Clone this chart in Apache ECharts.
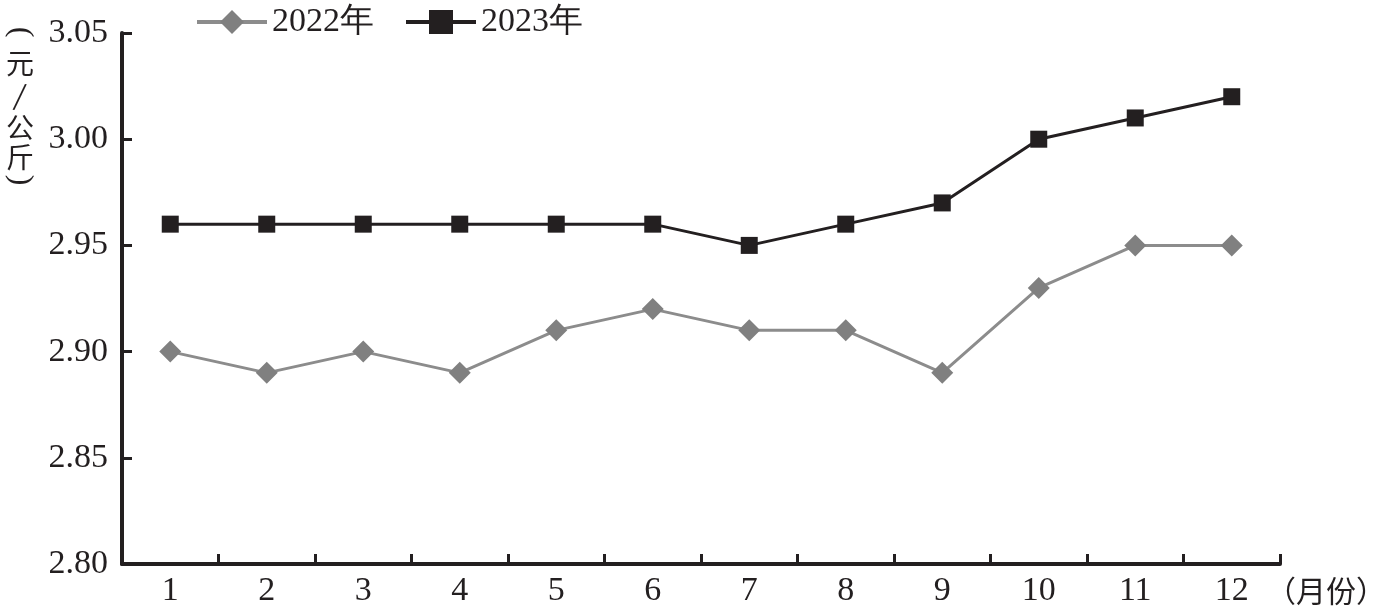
<!DOCTYPE html>
<html><head><meta charset="utf-8">
<script src="https://cdn.jsdelivr.net/npm/echarts@6/dist/echarts.min.js"></script>
<style>html,body{margin:0;padding:0;background:#fff}#c{width:1384px;height:612px}</style>
</head><body><div id="c"></div>
<script>
const months = ['1','2','3','4','5','6','7','8','9','10','11','12'];
const s2022 = [2.90, 2.89, 2.90, 2.89, 2.91, 2.92, 2.91, 2.91, 2.89, 2.93, 2.95, 2.95];
const s2023 = [2.96, 2.96, 2.96, 2.96, 2.96, 2.96, 2.95, 2.96, 2.97, 3.00, 3.01, 3.02];
const yTicks = [2.80, 2.85, 2.90, 2.95, 3.00, 3.05];
const yName = ['(', '元', '/', '公', '斤', ')'];
const FONT = 'Liberation Serif';
const CJK = '"Noto Sans CJK SC", sans-serif';
const INK = '#231f20';
const nameCenters = [32, 63, 95, 127, 157, 180];
const yNameGraphics = yName.map((ch, i) => {
  const isParen = ch === '(' || ch === ')';
  return {
    type: 'text', x: 20, y: nameCenters[i],
    rotation: isParen ? -Math.PI / 2 : (ch === '/' ? -0.15 : 0),
    style: {text: ch, fontSize: isParen ? 32 : 28, fontFamily: isParen ? FONT : CJK, fill: INK,
      align: 'center', verticalAlign: 'middle'}
  };
});
const chart = echarts.init(document.getElementById('c'));
chart.setOption({
  backgroundColor: '#fff',
  animation: false,
  textStyle: {fontFamily: FONT},
  grid: {left: 122, right: 104, top: 33, bottom: 48, containLabel: false, outerBoundsMode: 'none'},
  legend: {
    left: 190, top: 0, itemWidth: 70, itemHeight: 30, itemGap: 30,
    lineStyle: {width: 4},
    textStyle: {fontFamily: FONT, fontSize: 34, color: INK},
    data: ['2022年', '2023年']
  },
  xAxis: {
    type: 'category', data: months, boundaryGap: true,
    axisLine: {show: true, lineStyle: {color: INK, width: 4}},
    axisTick: {show: true, inside: true, length: 10, alignWithLabel: false, interval: 0,
      lineStyle: {color: INK, width: 3}},
    axisLabel: {fontFamily: FONT, fontSize: 34, color: INK, margin: 10},
    name: '（月份）', nameLocation: 'end', nameGap: -14,
    nameTextStyle: {fontFamily: CJK, fontSize: 30, color: INK, verticalAlign: 'top', align: 'left', padding: [12, 0, 0, 0]}
  },
  yAxis: {
    type: 'value', min: 2.80, max: 3.05, interval: 0.05,
    axisLine: {show: true, lineStyle: {color: INK, width: 4}},
    axisTick: {show: true, inside: true, length: 10, lineStyle: {color: INK, width: 3}},
    splitLine: {show: false},
    axisLabel: {fontFamily: FONT, fontSize: 34, color: INK, margin: 14,
      formatter: v => v.toFixed(2)}
  },
  graphic: yNameGraphics,
  series: [{
    name: '2022年', type: 'line', data: s2022,
    symbol: 'diamond', symbolSize: 22,
    lineStyle: {color: '#8c8c8c', width: 3},
    itemStyle: {color: '#808080'}
  }, {
    name: '2023年', type: 'line', data: s2023,
    symbol: 'rect', symbolSize: 17,
    lineStyle: {color: INK, width: 3},
    itemStyle: {color: INK}
  }]
});
</script></body></html>
